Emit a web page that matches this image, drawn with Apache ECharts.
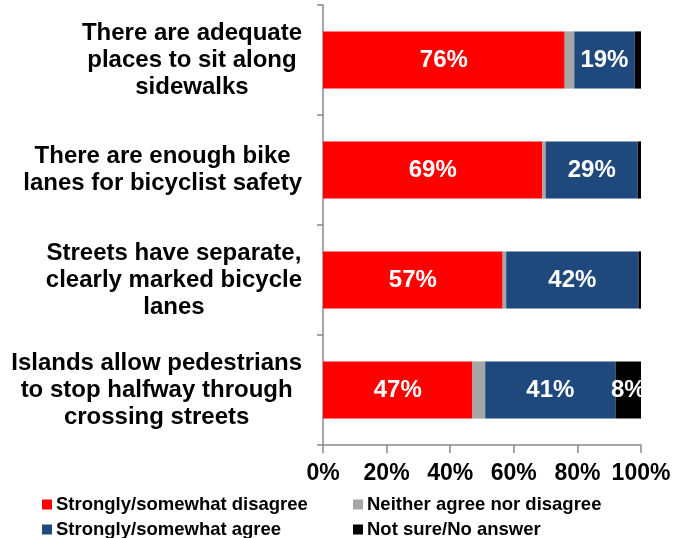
<!DOCTYPE html>
<html>
<head>
<meta charset="utf-8">
<script src="https://cdn.jsdelivr.net/npm/echarts@6/dist/echarts.min.js"></script>
<style>
html,body{margin:0;padding:0;background:#fff;}
#chart{width:687px;height:538px;}
</style>
</head>
<body>
<div id="chart"></div>
<script>
var categories = [
  "There are adequate\nplaces to sit along\nsidewalks",
  "There are enough bike\nlanes for bicyclist safety",
  "Streets have separate,\nclearly marked bicycle\nlanes",
  "Islands allow pedestrians\nto stop halfway through\ncrossing streets"
];
var seriesNames = ["Strongly/somewhat disagree", "Neither agree nor disagree", "Strongly/somewhat agree", "Not sure/No answer"];
var disagree = [76, 69, 56.5, 47];
var neither = [3, 1, 1.1, 4];
var agree = [19, 29, 41.6, 41];
var notSure = [2, 1, 0.8, 8];
var xTicks = [0, 20, 40, 60, 80, 100];

var FONT = "'Liberation Sans', Arial, sans-serif";
var colors = ["#FF0000", "#A6A6A6", "#1F497D", "#000000"];
var values = [disagree, neither, agree, notSure];

var chart = echarts.init(document.getElementById('chart'), null, {renderer: 'canvas'});

function makeSeries(i) {
  return {
    name: seriesNames[i],
    type: 'bar',
    stack: 'total',
    barWidth: '52%',
    data: values[i],
    itemStyle: {color: colors[i]},
    label: {
      show: true,
      position: 'inside',
      color: '#fff',
      fontFamily: FONT,
      fontWeight: 'bold',
      fontSize: 24,
      formatter: function (p) { return p.value >= 5 ? Math.round(p.value) + '%' : ''; }
    }
  };
}

chart.setOption({
  animation: false,
  backgroundColor: '#fff',
  textStyle: {fontFamily: FONT},
  grid: {left: 323, right: 46, top: 5, bottom: 93, containLabel: false},
  legend: {
    left: 42,
    top: 492,
    padding: 0,
    width: 640,
    itemGap: 0,
    itemWidth: 10,
    itemHeight: 10,
    icon: 'rect',
    data: seriesNames,
    textStyle: {
      fontFamily: FONT, fontWeight: 'bold', fontSize: 18.5, color: '#000',
      width: 297, lineHeight: 25, padding: [0, 0, 0, -1]
    }
  },
  xAxis: {
    type: 'value',
    min: xTicks[0],
    max: xTicks[xTicks.length - 1],
    interval: xTicks[1] - xTicks[0],
    axisLine: {show: true, lineStyle: {color: '#898989', width: 1.5}},
    axisTick: {show: true, length: 8, lineStyle: {color: '#898989', width: 1.5}},
    splitLine: {show: false},
    axisLabel: {
      margin: 17,
      color: '#000',
      fontFamily: FONT,
      fontWeight: 'bold',
      fontSize: 23,
      formatter: '{value}%'
    }
  },
  yAxis: {
    type: 'category',
    inverse: true,
    data: categories,
    axisLine: {show: true, lineStyle: {color: '#898989', width: 1.5}},
    axisTick: {show: true, length: 6, alignWithLabel: false, lineStyle: {color: '#898989', width: 1.5}},
    axisLabel: {
      margin: 21,
      align: 'right',
      color: '#000',
      fontFamily: FONT,
      fontWeight: 'bold',
      fontSize: 24,
      lineHeight: 27,
      formatter: function (v) {
        return v.split('\n').map(function (l) { return '{c|' + l + '}'; }).join('\n');
      },
      rich: {
        c: {align: 'center', fontFamily: FONT, fontWeight: 'bold', fontSize: 24, lineHeight: 27, color: '#000'}
      }
    }
  },
  series: [makeSeries(0), makeSeries(1), makeSeries(2), makeSeries(3)]
});
</script>
</body>
</html>
